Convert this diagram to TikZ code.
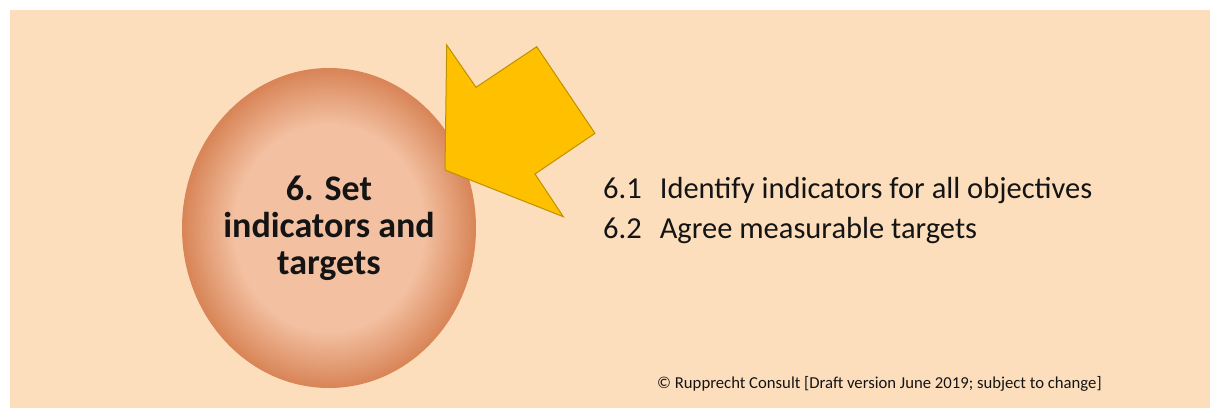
\documentclass[tikz,border=0pt]{standalone}
\usepackage{fontspec}
\setmainfont{Carlito}
\usetikzlibrary{shapes.geometric}
\definecolor{bgpeach}{RGB}{252,222,188}
\definecolor{arrowfill}{RGB}{255,192,0}
\definecolor{arrowline}{RGB}{191,144,0}
\definecolor{ellin}{RGB}{243,193,162}
\definecolor{ellout}{RGB}{216,132,86}
\definecolor{textdark}{RGB}{20,20,20}
\pgfdeclareradialshading{eggshade}{\pgfpoint{0bp}{0bp}}{color(0bp)=(ellin); color(16bp)=(ellin); color(25bp)=(ellout); color(50bp)=(ellout)}
\tikzset{
  eggnode/.style={ellipse, minimum width=294pt, minimum height=320pt, inner sep=0pt, shade, shading=eggshade},
  eggtext/.style={align=center, text=textdark, font=\bfseries\fontsize{36}{37}\selectfont},
  arrowshape/.style={fill=arrowfill, draw=arrowline, line width=1pt, line join=miter},
  steptext/.style={anchor=base west, inner sep=0pt, text=textdark, font=\fontsize{30.5}{36}\selectfont},
  notetext/.style={anchor=base west, inner sep=0pt, text=textdark, font=\fontsize{16.7}{20}\selectfont}
}
\begin{document}
\begin{tikzpicture}[x=1pt,y=-1pt]
\path[use as bounding box] (0,0) rectangle (1210,410);
\fill[white] (0,0) rectangle (1210,410);
\fill[bgpeach] (10,10) rectangle (1210,408);
\node[eggnode] (egg) at (329,228) {};
\node[eggtext] (eggtxt) at (329,228) {6. Set\\indicators and\\targets};
\draw[arrowshape] (446.7,45) -- (476,87.3) -- (536.7,46.7) -- (595,133.3) -- (535,174) -- (563.3,216.7) -- (445,170) -- cycle;
\node[steptext] (s61) at (603,198) {6.1\hspace{18pt}Identify indicators for all objectives};
\node[steptext] (s62) at (603,238) {6.2\hspace{18pt}Agree measurable targets};
\node[notetext] (note) at (657,388) {© Rupprecht Consult [Draft version June 2019; subject to change]};
\end{tikzpicture}
\end{document}
